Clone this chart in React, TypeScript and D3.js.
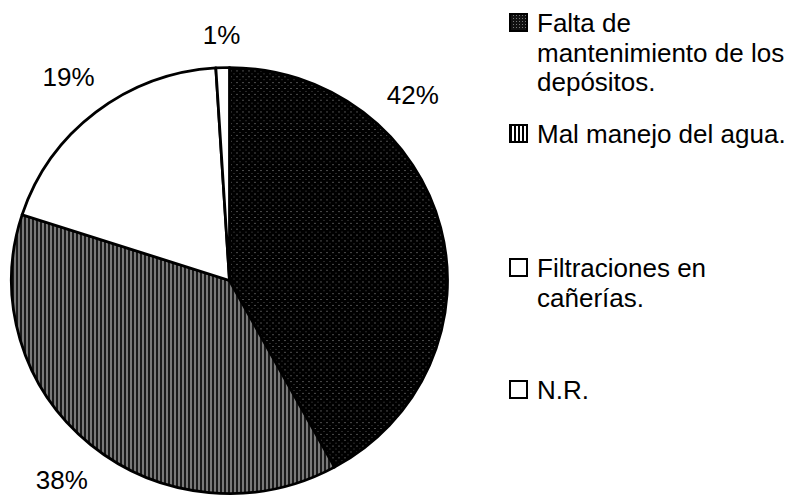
import * as d3 from "d3";

const categories = [
  "Falta de mantenimiento de los depósitos.",
  "Mal manejo del agua.",
  "Filtraciones en cañerías.",
  "N.R.",
];
const values = [42, 38, 19, 1];
const legendLines = [
  ["Falta de", "mantenimiento de los", "depósitos."],
  ["Mal manejo del agua."],
  ["Filtraciones en", "cañerías."],
  ["N.R."],
];
const fills = ["url(#dots)", "url(#vlines)", "#fff", "#fff"];
const legendFills = ["url(#dotsSmall)", "url(#bars)", "#fff", "#fff"];
// excel placed the 42% label nearer the top than its slice middle (degrees)
const labelAngleFix = [44, null, null, null];

const W = 795;
const H = 496;
const cx = 229.5;
const cy = 280.5;
const rx = 218;
const ry = 213;
const fontSize = 26;
const lineH = 29.5;

const App = () => {
  const pie = d3
    .pie<number>()
    .sort(null)
    .value((d) => d);
  const arcs = pie(values);
  const arc = d3.arc<d3.PieArcDatum<number>>().innerRadius(0).outerRadius(rx);

  const labelPos = (d: d3.PieArcDatum<number>, i: number) => {
    const mid = (d.startAngle + d.endAngle) / 2;
    const fix = labelAngleFix[i];
    const a = fix != null ? (fix * Math.PI) / 180 : mid;
    const ux = Math.sin(a);
    const uy = -Math.cos(a);
    const w = String(values[i] + "%").length * fontSize * 0.6;
    const h = fontSize * 0.72;
    const rr = 23 + Math.abs(ux) * (w / 2) + Math.abs(uy) * (h / 2);
    return [ux * (rx + rr), uy * (ry + rr)];
  };

  // baseline of first line of each legend entry
  const legendY = [32, 143, 277, 399];

  return (
    <svg
      width={W}
      height={H}
      style={{ position: "absolute", left: 0, top: 0, background: "#fff" }}
      fontFamily="'Liberation Sans', Arial, sans-serif"
    >
      <defs>
        <pattern id="dots" width="6" height="6" patternUnits="userSpaceOnUse">
          <rect width="6" height="6" fill="#000" />
          <rect x="1" y="1" width="1" height="1" fill="#9a9a9a" />
          <rect x="4" y="4" width="1" height="1" fill="#555" />
        </pattern>
        <pattern id="dotsSmall" width="3" height="3" patternUnits="userSpaceOnUse">
          <rect width="3" height="3" fill="#111" />
          <rect x="1" y="1" width="1" height="1" fill="#777" />
        </pattern>
        <pattern id="vlines" width="4" height="4" patternUnits="userSpaceOnUse">
          <rect width="4" height="4" fill="#000" />
          <rect x="1" y="0" width="1" height="4" fill="#f2f2f2" />
          <rect x="3" y="0" width="1" height="4" fill="#333" />
        </pattern>
        <pattern id="bars" width="4" height="4" patternUnits="userSpaceOnUse">
          <rect width="4" height="4" fill="#fff" />
          <rect x="1" y="0" width="2" height="4" fill="#000" />
        </pattern>
      </defs>
      <g transform={`translate(${cx},${cy})`}>
        <g transform={`scale(1,${ry / rx})`}>
          {arcs.map((d, i) => (
            <path
              key={i}
              d={arc(d) || ""}
              fill={fills[i]}
              stroke="#000"
              strokeWidth={2.8}
              strokeLinejoin="round"
            />
          ))}
        </g>
        {arcs.map((d, i) => {
          const [x, y] = labelPos(d, i);
          return (
            <text
              key={"l" + i}
              x={x}
              y={y + fontSize * 0.36}
              textAnchor="middle"
              fontSize={fontSize}
              fill="#000"
            >
              {values[i]}%
            </text>
          );
        })}
      </g>
      <g>
        {categories.map((c, i) => (
          <g key={c} transform={`translate(509,${legendY[i]})`}>
            <rect
              x={1}
              y={-18}
              width={17}
              height={17}
              fill={legendFills[i]}
              stroke="#000"
              strokeWidth={2}
            />
            {legendLines[i].map((t, j) => (
              <text key={j} x={28} y={j * lineH} fontSize={fontSize} fill="#000">
                {t}
              </text>
            ))}
          </g>
        ))}
      </g>
    </svg>
  );
};

export default App;
